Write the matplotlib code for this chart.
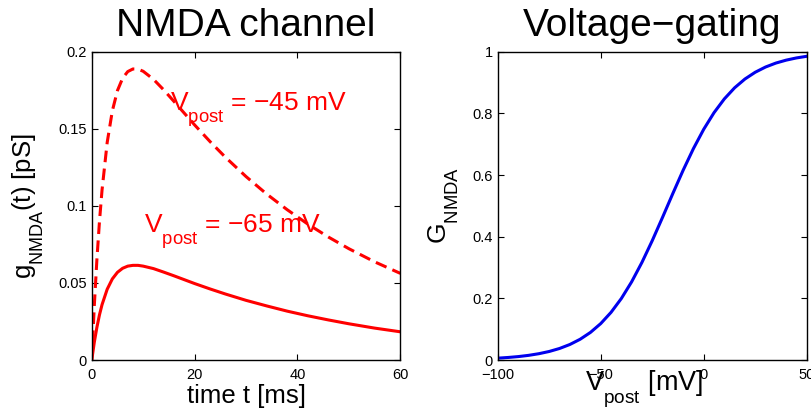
import matplotlib
matplotlib.use('Agg')
import matplotlib.pyplot as plt
import matplotlib._mathtext as mathtext_core
from matplotlib.ticker import FormatStrFormatter

plt.rcParams['font.family'] = ['Liberation Sans', 'DejaVu Sans']
plt.rcParams['mathtext.fontset'] = 'custom'
plt.rcParams['mathtext.rm'] = 'Liberation Sans'
plt.rcParams['mathtext.it'] = 'Liberation Sans'
# deeper subscripts, closer to the look of the original figure
mathtext_core.FontConstantsBase.sub1 = 0.9

# NMDA conductance time course [ms], [pS]
t_ms = [0, 0.5, 1, 1.5, 2, 3, 4, 5, 6, 7, 8, 9, 10, 12, 14, 16, 18, 20,
        23, 26, 30, 34, 38, 42, 46, 50, 55, 60]
g_m45 = [0, 0.0356, 0.0652, 0.0899, 0.1103, 0.1411, 0.1616, 0.1748, 0.1828,
         0.1871, 0.1888, 0.1887, 0.1873, 0.1821, 0.1752, 0.1677, 0.1601,
         0.1525, 0.1417, 0.1315, 0.1190, 0.1077, 0.0975, 0.0882, 0.0798,
         0.0722, 0.0637, 0.0562]
g_m65 = [0, 0.0116, 0.0212, 0.0293, 0.0359, 0.0459, 0.0526, 0.0569, 0.0595,
         0.0609, 0.0614, 0.0614, 0.0609, 0.0593, 0.0570, 0.0546, 0.0521,
         0.0496, 0.0461, 0.0428, 0.0387, 0.0351, 0.0317, 0.0287, 0.0260,
         0.0235, 0.0207, 0.0183]

# Mg block voltage gating
v_post = [-100, -95, -90, -85, -80, -75, -70, -65, -60, -55, -50, -45, -40,
          -35, -30, -25, -20, -15, -10, -5, 0, 5, 10, 15, 20, 25, 30, 35,
          40, 45, 50]
G_nmda = [0.0060, 0.0082, 0.0111, 0.0151, 0.0205, 0.0277, 0.0374, 0.0503,
          0.0673, 0.0895, 0.1182, 0.1546, 0.1995, 0.2536, 0.3166, 0.3871,
          0.4627, 0.5401, 0.6155, 0.6858, 0.7485, 0.8023, 0.8469, 0.8830,
          0.9114, 0.9334, 0.9503, 0.9631, 0.9726, 0.9798, 0.9851]

fig = plt.figure(figsize=(8.12, 4.19), dpi=100)
ax1 = fig.add_axes([0.1130, 0.1408, 0.3800, 0.7358])
ax2 = fig.add_axes([0.6130, 0.1408, 0.3805, 0.7358])

ax1.plot(t_ms, g_m45, color='red', lw=2.2, dashes=(3.8, 2.1))
ax1.plot(t_ms, g_m65, color='red', lw=2.2)
ax1.text(15.2, 0.1615, r'$\mathregular{V_{post}}$ = −45 mV', color='red',
         fontsize=19, va='baseline', ha='left')
ax1.text(10.2, 0.0822, r'$\mathregular{V_{post}}$ = −65 mV', color='red',
         fontsize=19, va='baseline', ha='left')
ax1.set_xlim(0, 60)
ax1.set_ylim(0, 0.2)
ax1.set_xticks([0, 20, 40, 60])
ax1.set_yticks([0, 0.05, 0.1, 0.15, 0.2])
ax1.yaxis.set_major_formatter(FormatStrFormatter('%g'))
ax1.set_title('NMDA channel', fontsize=28, pad=11)
ax1.set_xlabel('time t [ms]', fontsize=18.5, labelpad=1)
ax1.set_ylabel(r'$\mathregular{g_{NMDA}(t)}$ [pS]', fontsize=18.5, labelpad=9)

ax2.plot(v_post, G_nmda, color='#0000ee', lw=2.2)
ax2.set_xlim(-100, 50)
ax2.set_ylim(0, 1)
ax2.set_xticks([-100, -50, 0, 50])
ax2.set_yticks([0, 0.2, 0.4, 0.6, 0.8, 1])
ax2.yaxis.set_major_formatter(FormatStrFormatter('%g'))
ax2.set_title('Voltage−gating', fontsize=28, pad=11)
ax2.set_xlabel(r'$\mathregular{V_{post}}$ [mV]', fontsize=19.5, labelpad=-10)
ax2.xaxis.label.set_x(0.475)
ax2.set_ylabel(r'$\mathregular{G_{NMDA}}$', fontsize=19, labelpad=8)

for ax in (ax1, ax2):
    ax.tick_params(direction='in', top=True, right=True, length=4,
                   width=0.8, labelsize=10.5)
    ax.tick_params(axis='x', pad=6)
    ax.tick_params(axis='y', pad=3.5)
    for sp in ax.spines.values():
        sp.set_linewidth(1.0)

fig.savefig('out.png', dpi=100)
